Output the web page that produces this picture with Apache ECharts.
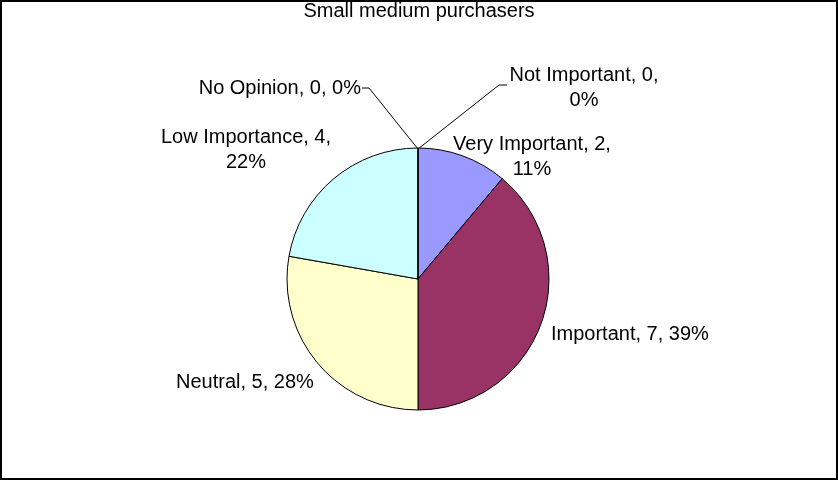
<!DOCTYPE html>
<html>
<head>
<meta charset="utf-8">
<script src="https://cdn.jsdelivr.net/npm/echarts@6/dist/echarts.min.js"></script>
<style>
  html, body { margin: 0; padding: 0; background: #fff; }
  #main { width: 838px; height: 480px; }
</style>
</head>
<body>
<div id="main"></div>
<script>
// data
var categories = ['Not Important', 'Very Important', 'Important', 'Neutral', 'Low Importance', 'No Opinion'];
var counts = [0, 2, 7, 5, 4, 0];
var colors = ['#9999FF', '#9999FF', '#993366', '#FFFFCC', '#CCFFFF', '#CCFFFF'];

// where each label sits (x, y, align), and leader lines for the empty slices
var labelSpots = [
    { x: 584, y: 88, align: 'center', line: [[418, 149], [499, 85], [507, 85]] },
    { x: 532, y: 157, align: 'center' },
    { x: 551, y: 334, align: 'left' },
    { x: 176, y: 382, align: 'left' },
    { x: 246, y: 150, align: 'center' },
    { x: 361, y: 88, align: 'right', line: [[418, 149], [369, 88], [362, 88]] }
];
var wrapped = { 'Not Important': true, 'Very Important': true, 'Low Importance': true };

var total = counts.reduce(function (a, b) { return a + b; }, 0);

var pieData = categories.map(function (c, i) {
    return { name: c, value: counts[i], itemStyle: { color: colors[i] } };
});

var myChart = echarts.init(document.getElementById('main'));
myChart.setOption({
    animation: false,
    title: {
        text: 'Small medium purchasers',
        left: 'center',
        top: -4,
        textStyle: { fontFamily: 'Liberation Sans', fontSize: 20, fontWeight: 'normal', color: '#000' }
    },
    graphic: [{
        type: 'rect',
        shape: { x: 1, y: 1, width: 836, height: 478 },
        style: { fill: 'none', stroke: '#000', lineWidth: 2 },
        z: 100
    }],
    series: [{
        type: 'pie',
        center: [418, 279],
        radius: 131,
        startAngle: 90,
        clockwise: true,
        minAngle: 0,
        avoidLabelOverlap: false,
        data: pieData,
        itemStyle: { borderColor: '#000', borderWidth: 1 },
        emphasis: { disabled: true },
        label: {
            show: true,
            fontFamily: 'Liberation Sans',
            fontSize: 20,
            color: '#000',
            lineHeight: 25,
            formatter: function (p) {
                var pct = Math.round(p.value / total * 100) + '%';
                var sep = wrapped[p.name] ? '\n' : ' ';
                return p.name + ', ' + p.value + ',' + sep + pct;
            }
        },
        labelLine: { show: true, lineStyle: { color: '#000', width: 1 } },
        labelLayout: function (params) {
            var s = labelSpots[params.dataIndex];
            var out = { x: s.x, y: s.y, align: s.align, verticalAlign: 'middle' };
            out.labelLinePoints = s.line ? s.line : [[0, 0], [0, 0], [0, 0]];
            return out;
        }
    }]
});
</script>
</body>
</html>
